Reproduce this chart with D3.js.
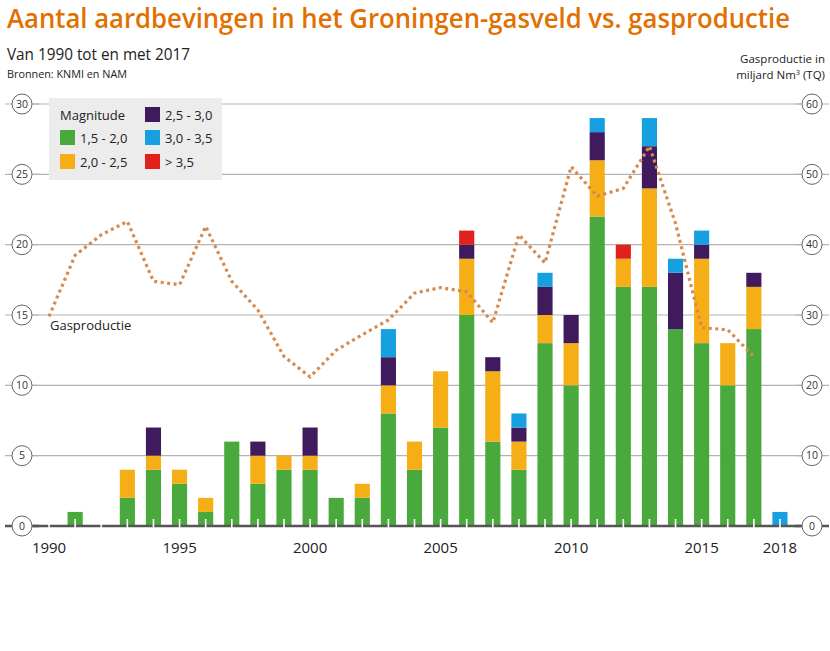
<!DOCTYPE html>
<html><head><meta charset="utf-8">
<script src="https://cdn.jsdelivr.net/npm/d3@7"></script>
<style>
body{margin:0;background:#fff;}
svg{display:block;font-family:"Open Sans","Noto Sans",sans-serif;}
</style></head>
<body>
<svg id="chart" width="830" height="651"></svg>
<script>
const years = d3.range(1990, 2019);
const mag15_20 = [0,1,0,2,4,3,1,6,3,4,4,2,2,8,4,7,15,6,4,13,10,22,17,17,14,13,10,14,0];
const mag20_25 = [0,0,0,2,1,1,1,0,2,1,1,0,1,2,2,4,4,5,2,2,3,4,2,7,0,6,3,3,0];
const mag25_30 = [0,0,0,0,2,0,0,0,1,0,2,0,0,2,0,0,1,1,1,2,2,2,0,3,4,1,0,1,0];
const mag30_35 = [0,0,0,0,0,0,0,0,0,0,0,0,0,2,0,0,0,0,1,1,0,1,0,2,1,1,0,0,1];
const mag35up  = [0,0,0,0,0,0,0,0,0,0,0,0,0,0,0,0,1,0,0,0,0,0,1,0,0,0,0,0,0];
const gasYears = d3.range(1990, 2018);
const gasProduction = [29.8,38.5,41.4,43.3,34.8,34.3,42.6,34.8,30.7,24.1,21.2,25.0,27.2,29.3,33.1,33.9,33.3,28.9,41.4,37.4,51.1,46.9,48.0,54.0,43.0,28.2,27.9,24.1];
const seriesKeys = ["1,5 - 2,0","2,0 - 2,5","2,5 - 3,0","3,0 - 3,5","> 3,5"];
const seriesColors = ["#4aa93c","#f6ae17","#3f1a5c","#17a0e0","#e3211c"];
const leftTicks = [0,5,10,15,20,25,30];
const rightTicks = [0,10,20,30,40,50,60];
const xLabels = [1990,1995,2000,2005,2010,2015,2018];

const table = years.map((y,i)=>({year:y,
  [seriesKeys[0]]:mag15_20[i],[seriesKeys[1]]:mag20_25[i],[seriesKeys[2]]:mag25_30[i],
  [seriesKeys[3]]:mag30_35[i],[seriesKeys[4]]:mag35up[i]}));

const svg = d3.select("#chart");
const x = d3.scaleBand().domain(years).range([36, 793]).paddingInner(0.42).paddingOuter(0.21);
const y = d3.scaleLinear().domain([0,30]).range([526,104]);
const y2 = d3.scaleLinear().domain([0,60]).range([526,104]);
const cx = yr => x(yr) + x.bandwidth()/2;

// title
svg.append("text").attr("x",7).attr("y",28).attr("fill","#e17000")
  .attr("font-size",27).attr("font-weight",600)
  .attr("textLength",783).attr("lengthAdjust","spacingAndGlyphs")
  .text("Aantal aardbevingen in het Groningen-gasveld vs. gasproductie");
svg.append("text").attr("x",7).attr("y",60).attr("fill","#222").attr("font-size",16)
  .attr("textLength",183).attr("lengthAdjust","spacingAndGlyphs")
  .text("Van 1990 tot en met 2017");
svg.append("text").attr("x",7).attr("y",78).attr("fill","#222").attr("font-size",11.5)
  .attr("textLength",120).attr("lengthAdjust","spacingAndGlyphs")
  .text("Bronnen: KNMI en NAM");
svg.append("text").attr("x",825).attr("y",63).attr("text-anchor","end").attr("fill","#222").attr("font-size",11.5)
  .text("Gasproductie in");
const t2 = svg.append("text").attr("x",825).attr("y",79).attr("text-anchor","end").attr("fill","#222").attr("font-size",11.5);
t2.append("tspan").text("miljard Nm");
t2.append("tspan").attr("font-size",7).attr("dy",-4).text("3");
t2.append("tspan").attr("dy",4).text(" (TQ)");

// gridlines
const grid = svg.append("g");
leftTicks.filter(d=>d>0).forEach(d=>{
  grid.append("line").attr("x1",33).attr("x2",801).attr("y1",y(d)).attr("y2",y(d))
    .attr("stroke","#b3b3b3").attr("stroke-width",1.2);
});
function circleTicks(vals, scale, cxp){
  vals.forEach(d=>{
    const g = svg.append("g").attr("transform",`translate(${cxp},${scale(d)})`);
    g.append("line").attr("x1",-17).attr("x2",17).attr("stroke",d===0?"#555":"#b3b3b3").attr("stroke-width",d===0?2.5:1.2);
    g.append("circle").attr("r",10).attr("fill","#fff").attr("stroke","#666").attr("stroke-width",1);
    g.append("text").attr("text-anchor","middle").attr("dy","0.36em").attr("font-size",10.5).attr("fill","#333").text(d);
  });
}

// legend box
const lg = svg.append("g");
lg.append("rect").attr("x",49).attr("y",98).attr("width",173).attr("height",82).attr("fill","#ececec");
lg.append("text").attr("x",60).attr("y",120).attr("font-size",13).attr("fill","#222").text("Magnitude");
const legPos = [[60,130],[60,154],[145,107],[145,130],[145,154]];
seriesKeys.forEach((k,i)=>{
  lg.append("rect").attr("x",legPos[i][0]).attr("y",legPos[i][1]).attr("width",15).attr("height",15).attr("fill",seriesColors[i]);
  lg.append("text").attr("x",legPos[i][0]+20).attr("y",legPos[i][1]+12.5).attr("font-size",13).attr("fill","#222").text(k);
});

// bars
const stacked = d3.stack().keys(seriesKeys)(table);
svg.append("g").selectAll("g").data(stacked).join("g")
  .attr("fill",(d,i)=>seriesColors[i])
  .selectAll("rect").data(d=>d.filter(p=>p[1]>p[0])).join("rect")
  .attr("x",d=>x(d.data.year)).attr("width",x.bandwidth())
  .attr("y",d=>y(d[1])).attr("height",d=>y(d[0])-y(d[1]));

svg.append("line").attr("x1",33).attr("x2",801).attr("y1",y(0)).attr("y2",y(0)).attr("stroke","#555").attr("stroke-width",2.5);
svg.append("g").selectAll("line").data(years).join("line")
  .attr("x1",d=>cx(d)).attr("x2",d=>cx(d)).attr("y1",519).attr("y2",528)
  .attr("stroke","#fff").attr("stroke-width",1.6);

circleTicks(leftTicks, y, 22);
circleTicks(rightTicks, y2, 812);

svg.append("g").selectAll("text").data(xLabels).join("text")
  .attr("x",d=>cx(d)).attr("y",553).attr("text-anchor","middle")
  .attr("font-size",15).attr("fill","#222").text(d=>d);

// gas line
const line = d3.line().x((d,i)=>cx(gasYears[i])).y(d=>y2(d)).curve(d3.curveLinear);
svg.append("path").datum(gasProduction).attr("d",line).attr("fill","none")
  .attr("stroke","#d68a4e").attr("stroke-width",3.2).attr("stroke-dasharray","3,3.5");
svg.append("text").attr("x",50).attr("y",330).attr("font-size",13).attr("fill","#222").text("Gasproductie");
</script>
</body></html>
